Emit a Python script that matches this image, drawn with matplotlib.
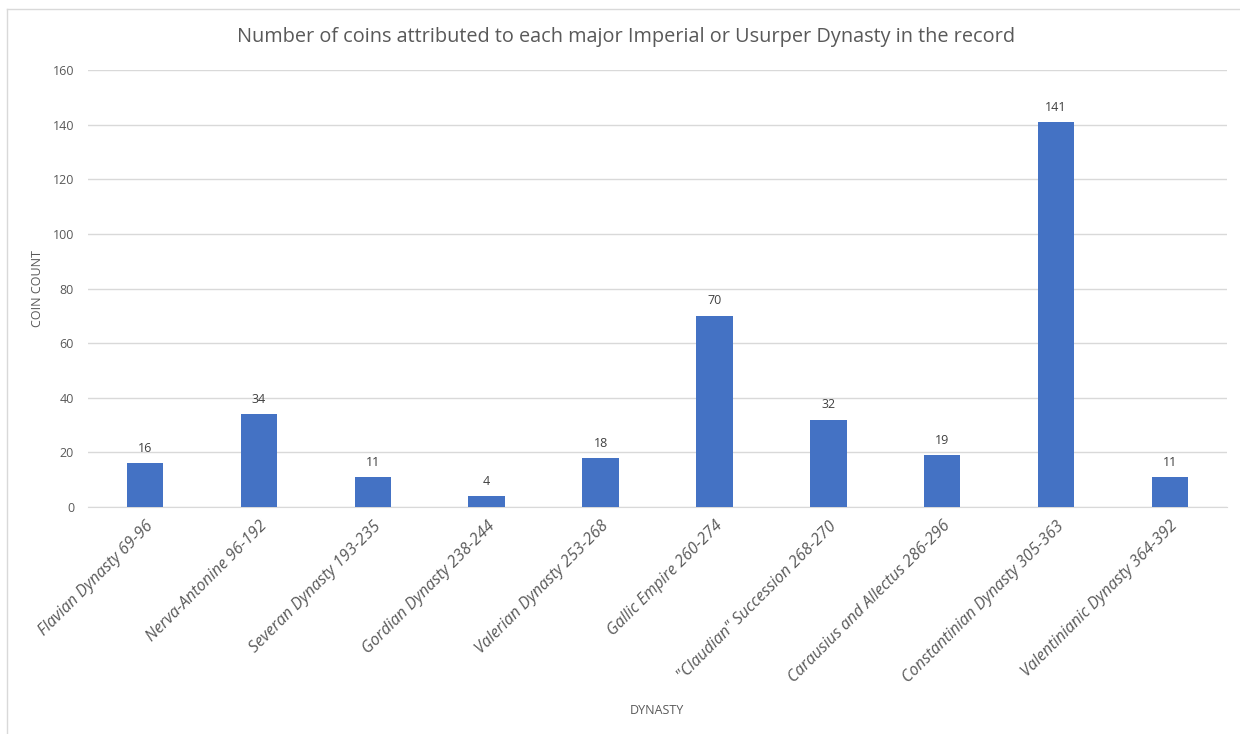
import matplotlib.pyplot as plt
from matplotlib.lines import Line2D

dynasties = ['Flavian Dynasty 69-96', 'Nerva-Antonine 96-192', 'Severan Dynasty 193-235',
             'Gordian Dynasty 238-244', 'Valerian Dynasty 253-268', 'Gallic Empire 260-274',
             '"Claudian" Succession 268-270', 'Carausius and Allectus 286-296',
             'Constantinian Dynasty 305-363', 'Valentinianic Dynasty 364-392']
counts = [16, 34, 11, 4, 18, 70, 32, 19, 141, 11]
yticks = [0, 20, 40, 60, 80, 100, 120, 140, 160]

plt.rcParams['font.family'] = ['Open Sans', 'DejaVu Sans']
grey = '#595959'

fig = plt.figure(figsize=(12.4, 7.34), dpi=100)
ax = fig.add_axes([88 / 1240, 1 - 507 / 734, (1227 - 88) / 1240, (507 - 70) / 734])

x = range(len(dynasties))
bars = ax.bar(x, counts, width=0.32, color='#4472C4', zorder=3)
for b, v in zip(bars, counts):
    ax.annotate(str(v), (b.get_x() + b.get_width() / 2, v), xytext=(0, 6),
                textcoords='offset points', ha='center', va='bottom',
                fontsize=9, color='#404040')

ax.set_xlim(-0.5, len(dynasties) - 0.5)
ax.set_ylim(0, 160)
ax.set_yticks(yticks)
ax.set_yticklabels([str(t) for t in yticks], fontsize=9, color=grey)
ax.set_xticks(list(x))
ax.set_xticklabels(dynasties, rotation=45, ha='right', rotation_mode='anchor',
                   fontsize=11.5, color=grey, style='italic')
ax.tick_params(length=0, pad=10)
ax.tick_params(axis='x', pad=8)
ax.grid(axis='y', color='#d9d9d9', linewidth=1, zorder=0)
for s in ['top', 'right', 'left']:
    ax.spines[s].set_visible(False)
ax.spines['bottom'].set_color('#d9d9d9')

ax.set_ylabel('COIN COUNT', fontsize=9, color=grey, labelpad=6)
fig.text(657 / 1240, 1 - 710 / 734, 'DYNASTY', ha='center', va='center',
         fontsize=9, color=grey)
fig.text(626 / 1240, 1 - 37 / 734,
         'Number of coins attributed to each major Imperial or Usurper Dynasty in the record',
         ha='center', va='center', fontsize=14.3, color=grey)

# outer chart border (top and left only visible)
fig.add_artist(Line2D([7 / 1240, 7 / 1240], [0, 1 - 9 / 734], transform=fig.transFigure,
                      color='#d9d9d9', linewidth=1))
fig.add_artist(Line2D([7 / 1240, 1], [1 - 9 / 734, 1 - 9 / 734], transform=fig.transFigure,
                      color='#d9d9d9', linewidth=1))

fig.savefig('out.png', dpi=100)
